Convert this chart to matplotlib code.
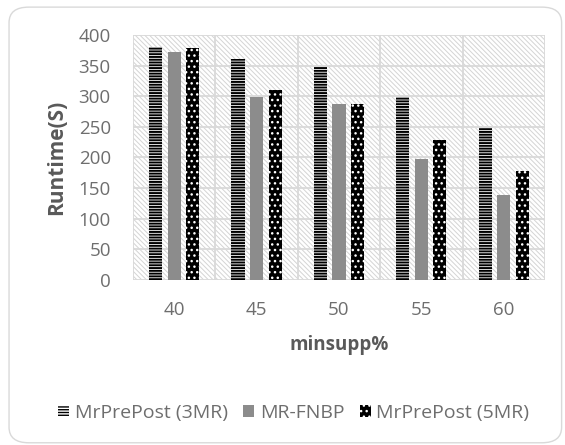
"""Runtime vs minsupp bar chart (Excel-style)."""

import matplotlib
matplotlib.use("Agg")
import matplotlib.pyplot as plt
import numpy as np
from matplotlib.patches import FancyBboxPatch, Rectangle

plt.rcParams["font.family"] = ["Open Sans", "DejaVu Sans"]

# ------------------------------------------------------------------
# Data
# ------------------------------------------------------------------
minsupp = ["40", "45", "50", "55", "60"]
series_names = ["MrPrePost (3MR)", "MR-FNBP", "MrPrePost (5MR)"]
mrprepost_3mr = [380, 360, 348, 298, 248]
mr_fnbp = [373, 298, 288, 198, 138]
mrprepost_5mr = [378, 310, 288, 228, 178]
yticks = [0, 50, 100, 150, 200, 250, 300, 350, 400]

TEXT_COLOR = "#595959"
TICK_COLOR = "#6e6e6e"
GRID_COLOR = "#d9d9d9"

fig = plt.figure(figsize=(5.65, 4.45), dpi=100)

# rounded chart border
border = FancyBboxPatch((0.016, 0.005), 0.978, 0.979,
                        boxstyle="round,pad=0,rounding_size=0.035",
                        transform=fig.transFigure, facecolor="white",
                        edgecolor=GRID_COLOR, linewidth=1.0, zorder=-5)
fig.patches.append(border)

ax = fig.add_axes([0.2354, 0.3708, 0.729, 0.5506])
ax.set_facecolor("none")

# hatched plot background
bg = Rectangle((0, 0), 1, 1, transform=ax.transAxes, facecolor="white",
               edgecolor="#d4d4d4", hatch="\\" * 7, linewidth=0, zorder=0)
bg.set_hatch_linewidth(0.7)
ax.add_patch(bg)

x = np.arange(len(minsupp))
width = 0.16
step = 0.225

styles = [
    dict(facecolor="white", edgecolor="black", hatch="------", hw=1.4),
    dict(facecolor="#8c8c8c", edgecolor="#8c8c8c", hatch=None, hw=1.0),
    dict(facecolor="black", edgecolor="white", hatch="...", hw=1.0),
]
values = [mrprepost_3mr, mr_fnbp, mrprepost_5mr]

handles = []
for i, (vals, st, name) in enumerate(zip(values, styles, series_names)):
    bars = ax.bar(x + (i - 1) * step, vals, width, facecolor=st["facecolor"],
                  edgecolor=st["edgecolor"], hatch=st["hatch"], linewidth=0,
                  label=name, zorder=3)
    for b in bars:
        b.set_hatch_linewidth(st["hw"])
    handles.append(bars)

ax.set_xlim(-0.5, len(minsupp) - 0.5)
ax.set_ylim(0, 400)
ax.set_yticks(yticks)
ax.set_xticks(x)
ax.set_xticklabels(minsupp)

# gridlines: horizontal at ticks, vertical at category boundaries
for y in yticks:
    ax.axhline(y, color=GRID_COLOR, linewidth=1.3, zorder=1)
for xb in np.arange(-0.5, len(minsupp), 1.0):
    ax.axvline(xb, color=GRID_COLOR, linewidth=1.3, zorder=1)

for s in ax.spines.values():
    s.set_visible(False)
ax.tick_params(length=0, colors=TICK_COLOR, labelsize=13.5)
ax.tick_params(axis="x", pad=15)
ax.tick_params(axis="y", pad=16)

ax.set_ylabel("Runtime(S)", color=TEXT_COLOR, fontsize=15, fontweight="bold",
              labelpad=8)
ax.set_xlabel("minsupp%", color=TEXT_COLOR, fontsize=13.5, fontweight="bold",
              labelpad=12)

leg = fig.legend(handles=handles, labels=series_names, loc="center",
                 bbox_to_anchor=(0.52, 0.072), ncol=3, frameon=False,
                 fontsize=14, handlelength=0.55, handleheight=0.55,
                 handletextpad=0.3, columnspacing=0.8)
for t in leg.get_texts():
    t.set_color(TICK_COLOR)

fig.savefig("out.png", dpi=100)
